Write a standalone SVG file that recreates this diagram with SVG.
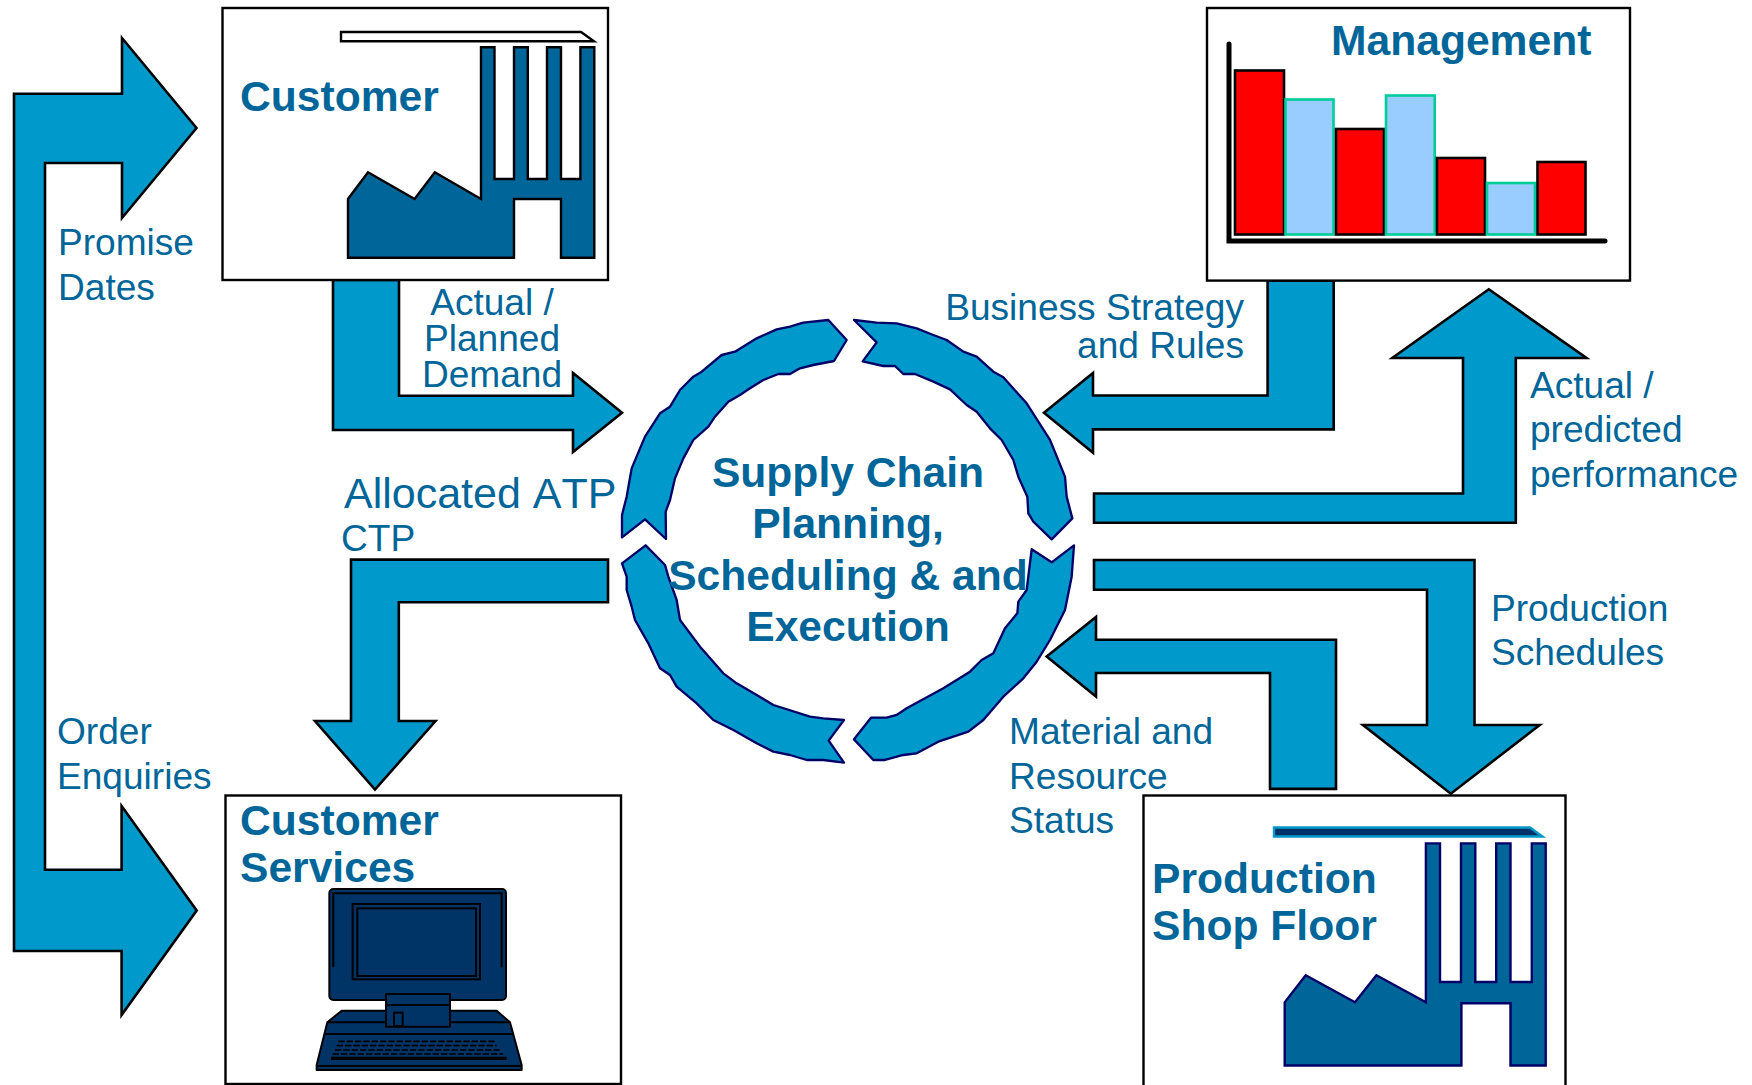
<svg xmlns="http://www.w3.org/2000/svg" width="1752" height="1085" viewBox="0 0 1752 1085">
<style>
text{font-family:"Liberation Sans",Arial,sans-serif;fill:#006699}
.h{font-weight:700;font-size:42.6px}
.l{font-size:37.1px}
.c{text-anchor:middle}
.e{text-anchor:end}
.box{fill:#fff;stroke:#000;stroke-width:2.4}
.arw{fill:#0099CC;stroke:#000;stroke-width:2.6;stroke-linejoin:miter}
.ring{fill:#0099CC;stroke:#000066;stroke-width:7;stroke-linejoin:round}
.red{fill:#FF0000;stroke:#000;stroke-width:2.6}
.blu{fill:#99CCFF;stroke:#00CC99;stroke-width:2.6}
.pc{fill:#003366;stroke:#000;stroke-width:6;stroke-linejoin:round}
.pl{fill:none;stroke:#000;stroke-width:6}
.key{fill:none;stroke:#000;stroke-width:5;stroke-dasharray:19 6}
</style>
<rect width="1752" height="1085" fill="#fff"/>
<g id="connectors">
<polygon class="arw" points="14,490 14,93.7 122,93.7 122,38 196.5,128 122,218 122,163 45,163 45,490 45,869.7 121.6,869.7 121.6,806 196.7,910.4 121.6,1015 121.6,951 14,951"/>
<polygon class="arw" points="333,280 399,280 399,395.7 573,395.7 573,373 622,412.7 573,452 573,430 333,430"/>
<polygon class="arw" points="1267.6,280.6 1333.7,280.6 1333.7,429.4 1093,429.4 1093,452.7 1044,412.7 1093,373 1093,395.5 1267.6,395.5"/>
<polygon class="arw" points="1094,493.5 1463,493.5 1463,358 1392.3,358 1488.8,289.3 1586.5,358 1515.8,358 1515.8,522.7 1094,522.7"/>
<polygon class="arw" points="1094,560 1474.5,560 1474.5,725 1539.7,725 1450.8,793.7 1363,725 1427,725 1427,589.7 1094,589.7"/>
<polygon class="arw" points="1046.7,656.4 1096,617 1096,639.8 1336,639.8 1336,788.9 1270,788.9 1270,673 1096,673 1096,696.4"/>
<polygon class="arw" points="608,559.6 351,559.6 351,721 315,721 375,789.6 435.5,721 398.8,721 398.8,602.3 608,602.3"/>
</g>
<g id="connector-labels">
<text class="l" x="58" y="255">Promise</text>
<text class="l" x="58" y="300">Dates</text>
<text class="l c" x="492" y="315">Actual /</text>
<text class="l c" x="492" y="351">Planned</text>
<text class="l c" x="492" y="387">Demand</text>
<text class="l e" x="1244" y="320">Business Strategy</text>
<text class="l e" x="1244" y="358">and Rules</text>
<text class="l" x="1530" y="398">Actual /</text>
<text class="l" x="1530" y="442">predicted</text>
<text class="l" x="1530" y="487">performance</text>
<text class="l" x="1491" y="621">Production</text>
<text class="l" x="1491" y="665">Schedules</text>
<text class="l" x="1009" y="744">Material and</text>
<text class="l" x="1009" y="789">Resource</text>
<text class="l" x="1009" y="833">Status</text>
<text x="344" y="508" font-size="43" style="font-kerning:none">Allocated ATP</text>
<text class="l" x="341" y="551">CTP</text>
<text class="l" x="57" y="744">Order</text>
<text class="l" x="57" y="789">Enquiries</text>
</g>
<g id="customer">
<rect class="box" x="222.5" y="8" width="385.5" height="272"/>
<polygon fill="#fff" stroke="#000" stroke-width="2.4" points="341,32 581,32 594,41.3 341,41.3"/>
<polygon fill="#006699" stroke="#000" stroke-width="2.4" points="348,257.7 348,199 368,172.3 414.6,199 434.8,172.3 481,199 481,47.3 494.5,47.3 494.5,179 514,179 514,47.3 527.8,47.3 527.8,179 547,179 547,47.3 561,47.3 561,179 580.4,179 580.4,47.3 594.3,47.3 594.3,257.7 561,257.7 561,199 514,199 514,257.7"/>
<text class="h" x="240" y="111">Customer</text>
</g>
<g id="management">
<rect class="box" x="1207" y="8" width="423" height="272.6"/>
<path d="M1229 44V241H1605" fill="none" stroke="#000" stroke-width="5" stroke-linecap="round"/>
<rect class="red" x="1235" y="70.5" width="49" height="164"/>
<rect class="blu" x="1285.5" y="99.5" width="48" height="135"/>
<rect class="red" x="1336" y="129" width="48" height="105.5"/>
<rect class="blu" x="1386" y="95.5" width="48.7" height="139"/>
<rect class="red" x="1437" y="158" width="48" height="76.5"/>
<rect class="blu" x="1487" y="183" width="48" height="51.5"/>
<rect class="red" x="1537.5" y="162" width="48" height="72.5"/>
<text class="h" x="1331" y="55">Management</text>
</g>
<g id="planning">
<g transform="translate(600 300) scale(.33333)">
<polygon class="ring" points="685,60 740,120 702,183 640,195 600,205 570,222 535,222 490,240 450,265 420,285 385,305 345,350 325,380 280,420 250,475 225,535 210,600 197,635 198,717 135,658 66,712 66,645 80,590 95,505 135,410 180,340 210,320 240,270 280,230 305,215 365,165 405,155 470,115 530,88 570,80 610,68"/>
<polygon class="ring" points="762,60 830,127 788,184 850,198 885,198 910,222 945,222 1000,245 1050,268 1100,315 1130,335 1170,385 1205,420 1240,480 1255,530 1282,590 1285,640 1300,665 1355,718 1417,655 1400,590 1395,530 1350,420 1315,365 1280,310 1210,232 1180,215 1130,170 1090,155 1040,120 1000,105 950,85 890,70 830,68"/>
<polygon class="ring" points="137,736 66,790 80,830 80,870 95,920 105,960 145,1030 180,1105 210,1125 230,1160 290,1210 340,1260 400,1290 470,1330 520,1355 570,1365 620,1380 670,1380 732,1388 686,1322 732,1260 670,1255 630,1250 520,1215 470,1185 410,1150 370,1120 300,1040 240,960 230,900 205,830 195,795"/>
<polygon class="ring" points="1422,736 1355,787 1295,748 1280,870 1255,905 1252,940 1215,985 1180,1060 1145,1080 1110,1115 1030,1165 975,1195 920,1225 890,1245 860,1253 813,1253 762,1318 820,1380 855,1380 910,1365 950,1360 1015,1325 1105,1295 1150,1260 1210,1190 1270,1135 1310,1085 1350,1020 1395,930 1415,830"/>
</g>
<text class="h c" x="848" y="487">Supply Chain</text>
<text class="h c" x="848" y="538">Planning,</text>
<text class="h c" x="848" y="590">Scheduling &amp; and</text>
<text class="h c" x="848" y="641">Execution</text>
</g>
<g id="customer-services">
<rect class="box" x="225.5" y="795.5" width="395.5" height="288.5"/>
<text class="h" x="240" y="835">Customer</text>
<text class="h" x="240" y="882">Services</text>
<g transform="translate(300 880) scale(.33333)">
<rect class="pc" x="88" y="27" width="530" height="333" rx="12"/>
<path class="pl" d="M100 262V40H605V262"/>
<rect class="pl" x="158" y="72" width="382" height="226"/>
<rect class="pl" x="172" y="85" width="356" height="203"/>
<polygon class="pc" points="125,392 590,392 630,427 665,555 665,570 50,570 50,555 82,427"/>
<path class="pl" d="M82 427H630M75 462H640M50 558H665"/>
<rect class="pc" x="258" y="342" width="192" height="98"/>
<path class="pl" d="M258 375H450"/>
<rect class="pl" x="282" y="398" width="26" height="40"/>
<path class="key" d="M115 484H585M110 497H590M105 510H600M98 522H610"/>
<path d="M93 535H620" fill="none" stroke="#000" stroke-width="10"/>
</g>
</g>
<g id="production">
<rect class="box" x="1143.5" y="795.5" width="422" height="300"/>
<polygon fill="#003366" stroke="#0099CC" stroke-width="2.4" points="1274,827.5 1530,827.5 1542.5,836.5 1274,836.5"/>
<polygon fill="#006699" stroke="#000066" stroke-width="2.4" points="1284.7,1065.5 1284.7,1002.3 1305.7,975.2 1355,1002.3 1376.4,975.2 1425.9,1002.3 1425.9,843.4 1440,843.4 1440,982 1461,982 1461,843.4 1475.3,843.4 1475.3,982 1496.2,982 1496.2,843.4 1510.5,843.4 1510.5,982 1531.8,982 1531.8,843.4 1545.7,843.4 1545.7,1065.5 1510.5,1065.5 1510.5,1003.3 1461.4,1003.3 1461.4,1065.5"/>
<text class="h" x="1152" y="893">Production</text>
<text class="h" x="1152" y="940">Shop Floor</text>
</g>
</svg>
